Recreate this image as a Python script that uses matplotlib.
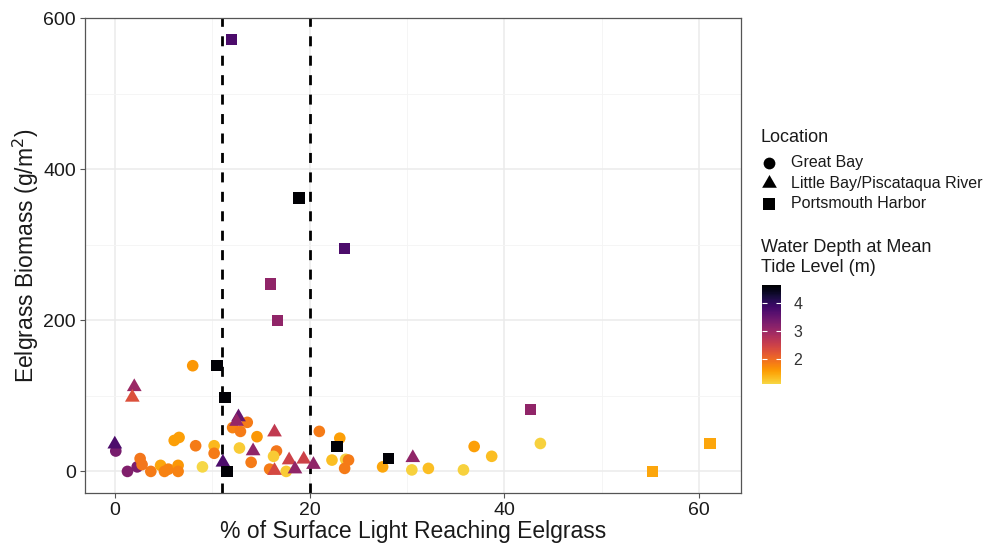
import numpy as np
import matplotlib
matplotlib.use("Agg")
import matplotlib.pyplot as plt
from matplotlib.colors import ListedColormap, Normalize
from matplotlib.cm import ScalarMappable

plt.rcParams["font.family"] = ["Liberation Sans", "DejaVu Sans"]

# Great Bay sites
gb_light = [0.1, 1.3, 2.3, 2.6, 2.8, 3.7, 4.7, 5.1, 5.5, 6.5, 6.5, 6.1, 6.6, 8.3,
            9.0, 10.2, 10.2, 8.0, 13.6, 12.1, 12.9, 14.6, 12.8, 14.0, 16.6, 16.3,
            15.9, 17.6, 21.0, 23.1, 22.3, 23.7, 24.0, 23.6, 27.5, 30.5, 32.2,
            35.8, 36.9, 38.7, 43.7]
gb_biomass = [27, 0, 6, 17, 9, 0, 8, 0, 3, 8, 0, 41, 45, 34,
              6, 34, 24, 140, 65, 58, 53, 46, 31, 12, 27, 20,
              3, 0, 53, 44, 15, 16, 15, 4, 6, 2, 4,
              2, 33, 20, 37]
gb_depth = [3.35, 3.25, 3.3, 1.9, 1.9, 1.85, 1.5, 1.8, 1.8, 1.6, 1.8, 1.55, 1.55, 1.85,
            1.1, 1.35, 1.85, 1.6, 1.85, 1.8, 1.85, 1.6, 1.2, 1.85, 1.9, 1.2,
            1.85, 1.2, 1.85, 1.55, 1.3, 1.15, 1.85, 1.85, 1.5, 1.15, 1.3,
            1.15, 1.55, 1.3, 1.15]

# Little Bay / Piscataqua River sites
lb_light = [0.0, 2.0, 1.8, 12.7, 12.5, 16.4, 14.2, 11.1, 16.4, 17.9, 18.5, 19.4, 20.4, 30.6]
lb_biomass = [36, 112, 98, 72, 66, 52, 27, 12, 1, 15, 3, 16, 9, 18]
lb_depth = [3.75, 3.0, 2.3, 3.5, 3.05, 2.6, 3.1, 3.75, 2.4, 2.5, 3.1, 2.5, 3.1, 3.1]

# Portsmouth Harbor sites
ph_light = [12.0, 18.9, 23.6, 16.0, 16.7, 10.5, 11.3, 11.5, 22.8, 28.1, 42.7, 55.2, 61.1]
ph_biomass = [572, 362, 295, 248, 200, 140, 98, 0, 33, 17, 82, 0, 37]
ph_depth = [3.75, 4.65, 3.75, 3.1, 3.1, 4.6, 4.6, 4.6, 4.6, 4.6, 3.1, 1.5, 1.5]

light_thresholds = [11, 20]
x_ticks = [0, 20, 40, 60]
y_ticks = [0, 200, 400, 600]
cbar_ticks = [2, 3, 4]
locations = ["Great Bay", "Little Bay/Piscataqua River", "Portsmouth Harbor"]

cmap = ListedColormap(plt.cm.inferno(np.linspace(0.9, 0.0, 256)))
all_depth = gb_depth + lb_depth + ph_depth
norm = Normalize(vmin=min(all_depth), vmax=max(all_depth))

W, H = 984, 544
fig = plt.figure(figsize=(W / 100, H / 100), dpi=100)
ax = fig.add_axes([85 / W, 1 - 493 / H, (741 - 85) / W, (493 - 18) / H])

# panel styling
ax.set_xlim(-3.06, 64.3)
ax.set_ylim(-28.6, 600.6)
ax.set_xticks(x_ticks)
ax.set_yticks(y_ticks)
ax.set_xticks([10, 30, 50], minor=True)
ax.set_yticks([100, 300, 500], minor=True)
ax.grid(True, which="major", color="#EBEBEB", linewidth=1.1, zorder=0)
ax.grid(True, which="minor", color="#F4F4F4", linewidth=0.6, zorder=0)
ax.tick_params(which="major", length=3.5, width=0.8, color="#555555",
               labelsize=14, labelcolor="#1a1a1a", pad=3)
ax.tick_params(which="minor", length=0)
for s in ax.spines.values():
    s.set_color("#555555")
    s.set_linewidth(0.9)
ax.set_axisbelow(True)

for xv in light_thresholds:
    ax.axvline(xv, color="black", linestyle=(0, (3.6, 3.4)), linewidth=2.0, zorder=2)

tri = [(0, 0.577), (-0.5, -0.289), (0.5, -0.289)]
kw = dict(cmap=cmap, norm=norm, linewidths=0, zorder=3)
ax.scatter(gb_light, gb_biomass, c=gb_depth, marker="o", s=70, **kw)
ax.scatter(lb_light, lb_biomass, c=lb_depth, marker=tri, s=150, **kw)
ax.scatter(ph_light, ph_biomass, c=ph_depth, marker="s", s=68, **kw)

ax.set_xlabel("% of Surface Light Reaching Eelgrass", fontsize=16.5, labelpad=1,
              color="#1a1a1a")
ax.set_ylabel("Eelgrass Biomass (g/m$^2$)", fontsize=16.5, labelpad=1.5,
              color="#1a1a1a")

# legend area drawn in figure pixel coordinates
lax = fig.add_axes([0, 0, 1, 1], facecolor="none")
lax.set_xlim(0, W)
lax.set_ylim(H, 0)
lax.axis("off")

lax.text(761, 137, "Location", fontsize=13, va="center", ha="left", color="#1a1a1a")
legend_markers = [("o", 72), (tri, 150), ("s", 68)]
for i, (lab, (mk, sz)) in enumerate(zip(locations, legend_markers)):
    yy = 163 + i * 20.3
    lax.scatter([769], [yy], marker=mk, s=sz, color="black", linewidths=0)
    lax.text(791, yy, lab, fontsize=11.5, va="center", ha="left", color="#1a1a1a")

lax.text(761, 248, "Water Depth at Mean", fontsize=13, va="center", ha="left",
         color="#1a1a1a")
lax.text(761, 268, "Tide Level (m)", fontsize=13, va="center", ha="left",
         color="#1a1a1a")

cax = fig.add_axes([762 / W, 1 - 384 / H, 19 / W, 99 / H])
cb = fig.colorbar(ScalarMappable(norm=norm, cmap=cmap), cax=cax)
cb.outline.set_visible(False)
cb.set_ticks(cbar_ticks)
cax.tick_params(axis="y", which="major", direction="in", length=3.5, width=0.8,
                color="white", labelsize=11.5, labelcolor="#333333", pad=9,
                left=True, right=True)

fig.savefig("out.png", dpi=100, facecolor="white")
